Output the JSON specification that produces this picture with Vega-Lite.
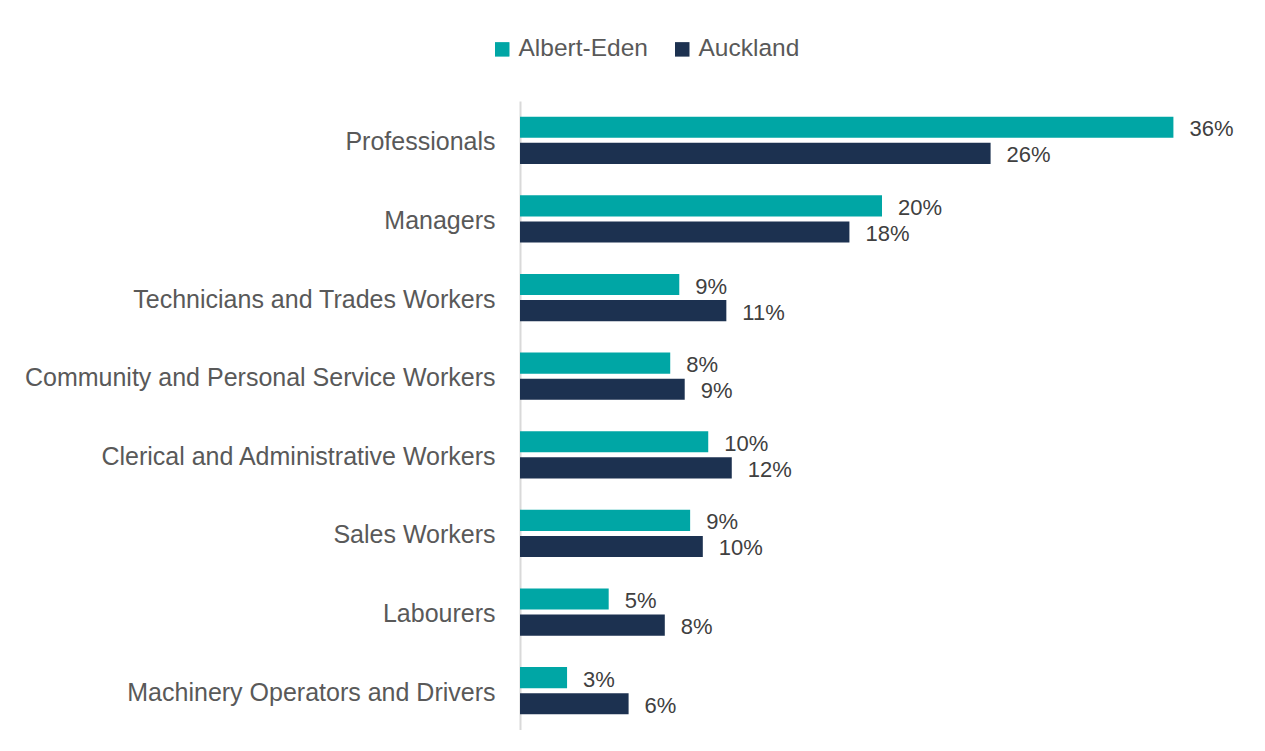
{
  "$schema": "https://vega.github.io/schema/vega-lite/v6.json",
  "autosize": {"type": "none"},
  "padding": {"left": 520, "top": 101, "right": 0, "bottom": 0},
  "width": 724,
  "height": 629,
  "background": "white",
  "data": {
    "values": [
      {"occupation": "Professionals", "area": "Albert-Eden", "share": 0.361},
      {"occupation": "Professionals", "area": "Auckland", "share": 0.260},
      {"occupation": "Managers", "area": "Albert-Eden", "share": 0.200},
      {"occupation": "Managers", "area": "Auckland", "share": 0.182},
      {"occupation": "Technicians and Trades Workers", "area": "Albert-Eden", "share": 0.088},
      {"occupation": "Technicians and Trades Workers", "area": "Auckland", "share": 0.114},
      {"occupation": "Community and Personal Service Workers", "area": "Albert-Eden", "share": 0.083},
      {"occupation": "Community and Personal Service Workers", "area": "Auckland", "share": 0.091},
      {"occupation": "Clerical and Administrative Workers", "area": "Albert-Eden", "share": 0.104},
      {"occupation": "Clerical and Administrative Workers", "area": "Auckland", "share": 0.117},
      {"occupation": "Sales Workers", "area": "Albert-Eden", "share": 0.094},
      {"occupation": "Sales Workers", "area": "Auckland", "share": 0.101},
      {"occupation": "Labourers", "area": "Albert-Eden", "share": 0.049},
      {"occupation": "Labourers", "area": "Auckland", "share": 0.080},
      {"occupation": "Machinery Operators and Drivers", "area": "Albert-Eden", "share": 0.026},
      {"occupation": "Machinery Operators and Drivers", "area": "Auckland", "share": 0.060}
    ]
  },
  "encoding": {
    "y": {
      "field": "occupation",
      "type": "nominal",
      "sort": null,
      "scale": {"paddingInner": 0.4, "paddingOuter": 0.2},
      "axis": {
        "title": null,
        "ticks": false,
        "labelPadding": 25,
        "labelOffset": 2,
        "labelFont": "Liberation Sans",
        "labelFontSize": 25,
        "labelColor": "#595959",
        "labelLimit": 600,
        "domainColor": "#D9D9D9",
        "domainWidth": 2
      }
    },
    "yOffset": {
      "field": "area",
      "type": "nominal",
      "sort": ["Albert-Eden", "Auckland"],
      "scale": {"paddingInner": 0.19, "paddingOuter": 0}
    },
    "x": {
      "field": "share",
      "type": "quantitative",
      "scale": {"domain": [0, 0.4]},
      "axis": null
    }
  },
  "layer": [
    {
      "mark": {"type": "bar"},
      "encoding": {
        "color": {
          "field": "area",
          "type": "nominal",
          "sort": ["Albert-Eden", "Auckland"],
          "scale": {"domain": ["Albert-Eden", "Auckland"], "range": ["#00A6A5", "#1C3150"]},
          "legend": {
            "title": null,
            "orient": "none",
            "direction": "horizontal",
            "legendX": -30,
            "legendY": -64,
            "symbolType": "square",
            "symbolSize": 210,
            "symbolStrokeWidth": 0,
            "labelFont": "Liberation Sans",
            "labelFontSize": 24.5,
            "labelColor": "#595959",
            "labelOffset": 4,
            "columnPadding": 22
          }
        }
      }
    },
    {
      "mark": {
        "type": "text",
        "align": "left",
        "baseline": "middle",
        "dx": 16,
        "dy": 2,
        "font": "Liberation Sans",
        "fontSize": 22,
        "color": "#404040"
      },
      "encoding": {
        "text": {"field": "share", "type": "quantitative", "format": ".0%"}
      }
    }
  ],
  "config": {"view": {"stroke": null}}
}
